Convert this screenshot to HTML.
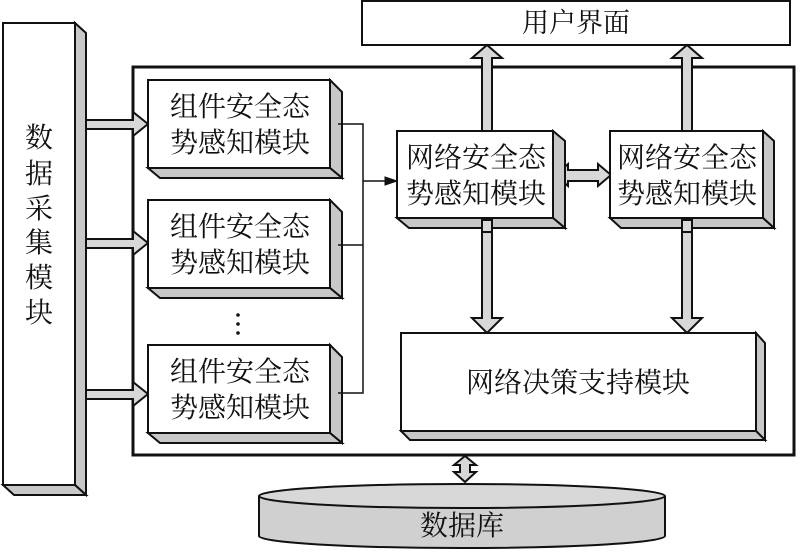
<!DOCTYPE html>
<html><head><meta charset="utf-8"><style>
html,body{margin:0;padding:0;background:#fff;}
svg text{font-family:"Liberation Serif","Noto Serif CJK SC","Noto Sans CJK SC",serif;fill:#111;}
</style></head><body>
<svg width="800" height="550" viewBox="0 0 800 550" xmlns="http://www.w3.org/2000/svg">
<g stroke="#111" stroke-width="2" stroke-linejoin="miter">
<!-- data collection box -->
<polygon points="75,23 86,33 86,495 75,485" fill="#c8c8c8"/>
<polygon points="3,485 75,485 86,495 14,495" fill="#c8c8c8"/>
<rect x="3" y="23" width="72" height="462" fill="#fff"/>

<!-- user interface -->
<rect x="362" y="1" width="428" height="44" fill="#fff"/>

<!-- main container -->
<rect x="133" y="67" width="661" height="388" fill="none" stroke-width="3"/>

<!-- arrows from data box -->
<g fill="#d8d8d8" stroke-width="2">
<polygon points="86,120 133,120 133,112 148,124 133,136 133,129 86,129"/>
<polygon points="86,239 133,239 133,231 148,243 133,255 133,248 86,248"/>
<polygon points="86,390 133,390 133,382 148,394 133,406 133,399 86,399"/>
</g>

<!-- component boxes -->
<g>
<polygon points="330,80 342,92 342,178 330,168" fill="#c8c8c8"/>
<polygon points="148,168 330,168 342,178 160,178" fill="#c8c8c8"/>
<rect x="148" y="80" width="182" height="88" fill="#fff"/>
<polygon points="330,200 342,212 342,298 330,288" fill="#c8c8c8"/>
<polygon points="148,288 330,288 342,298 160,298" fill="#c8c8c8"/>
<rect x="148" y="200" width="182" height="88" fill="#fff"/>
<polygon points="330,345 342,357 342,443 330,433" fill="#c8c8c8"/>
<polygon points="148,433 330,433 342,443 160,443" fill="#c8c8c8"/>
<rect x="148" y="345" width="182" height="88" fill="#fff"/>
</g>

<!-- connector lines -->
<polyline points="338,124 363,124 363,393 338,393" fill="none" stroke-width="1.5"/>
<line x1="338" y1="245" x2="363" y2="245" stroke-width="1.5"/>
<line x1="363" y1="181" x2="385" y2="181" stroke-width="1.5"/>
<polygon points="385,177 397,181 385,185" fill="#111" stroke-width="1"/>

<!-- up arrows to UI -->
<g fill="#d8d8d8">
<polygon points="482,131 482,58 472,58 487,45 502,58 492,58 492,131"/>
<polygon points="682,131 682,58 672,58 687,45 702,58 692,58 692,131"/>
<!-- down arrows -->
<polygon points="482,222 482,318 472,318 487,333 502,318 492,318 492,222"/>
<polygon points="682,222 682,318 672,318 687,333 702,318 692,318 692,222"/>
<!-- horizontal double arrow -->
<polygon points="555,175 568,164 568,170 598,170 598,164 611,175 598,186 598,181 568,181 568,186"/>
<!-- vertical double arrow -->
<polygon points="465,456 476,465 470,465 470,472 476,472 465,482 454,472 460,472 460,465 454,465"/>
</g>

<!-- network boxes -->
<polygon points="553,131 565,141 565,228 553,218" fill="#c8c8c8"/>
<polygon points="397,218 553,218 565,228 409,228" fill="#c8c8c8"/>
<rect x="397" y="131" width="156" height="87" fill="#fff"/>
<polygon points="763,131 774,141 774,228 763,218" fill="#c8c8c8"/>
<polygon points="610,218 763,218 774,228 621,228" fill="#c8c8c8"/>
<rect x="610" y="131" width="153" height="87" fill="#fff"/>
<!-- redraw arrow shafts over boxes bottom -->
<g fill="#d8d8d8">
<rect x="482" y="220" width="10" height="12"/>
<rect x="682" y="220" width="10" height="12"/>
</g>

<!-- decision box -->
<polygon points="756,333 765,343 765,440 756,431" fill="#c8c8c8"/>
<polygon points="401,431 756,431 765,440 410,440" fill="#c8c8c8"/>
<rect x="401" y="333" width="355" height="98" fill="#fff"/>

<!-- database cylinder -->
<path d="M259,496 L259,536 A203,12 0 0 0 665,536 L665,496" fill="#d0d0d0"/>
<ellipse cx="462" cy="496" rx="203" ry="12" fill="#d8d8d8"/>
</g>

<!-- dots -->
<circle cx="238" cy="315" r="1.8" fill="#111"/>
<circle cx="238" cy="324" r="1.8" fill="#111"/>
<circle cx="238" cy="333" r="1.8" fill="#111"/>

<!-- text -->
<g font-size="28" text-anchor="middle">
<text x="39" y="147">数</text>
<text x="39" y="183">据</text>
<text x="39" y="218">采</text>
<text x="39" y="252">集</text>
<text x="39" y="287">模</text>
<text x="39" y="322">块</text>
<text x="576" y="32" font-size="27">用户界面</text>
<text x="240" y="116">组件安全态</text>
<text x="240" y="152">势感知模块</text>
<text x="240" y="236">组件安全态</text>
<text x="240" y="272">势感知模块</text>
<text x="240" y="381">组件安全态</text>
<text x="240" y="417">势感知模块</text>
<text x="476" y="167">网络安全态</text>
<text x="476" y="203">势感知模块</text>
<text x="687" y="167">网络安全态</text>
<text x="687" y="203">势感知模块</text>
<text x="578" y="392">网络决策支持模块</text>
<text x="462" y="535">数据库</text>
</g>
</svg>
</body></html>
